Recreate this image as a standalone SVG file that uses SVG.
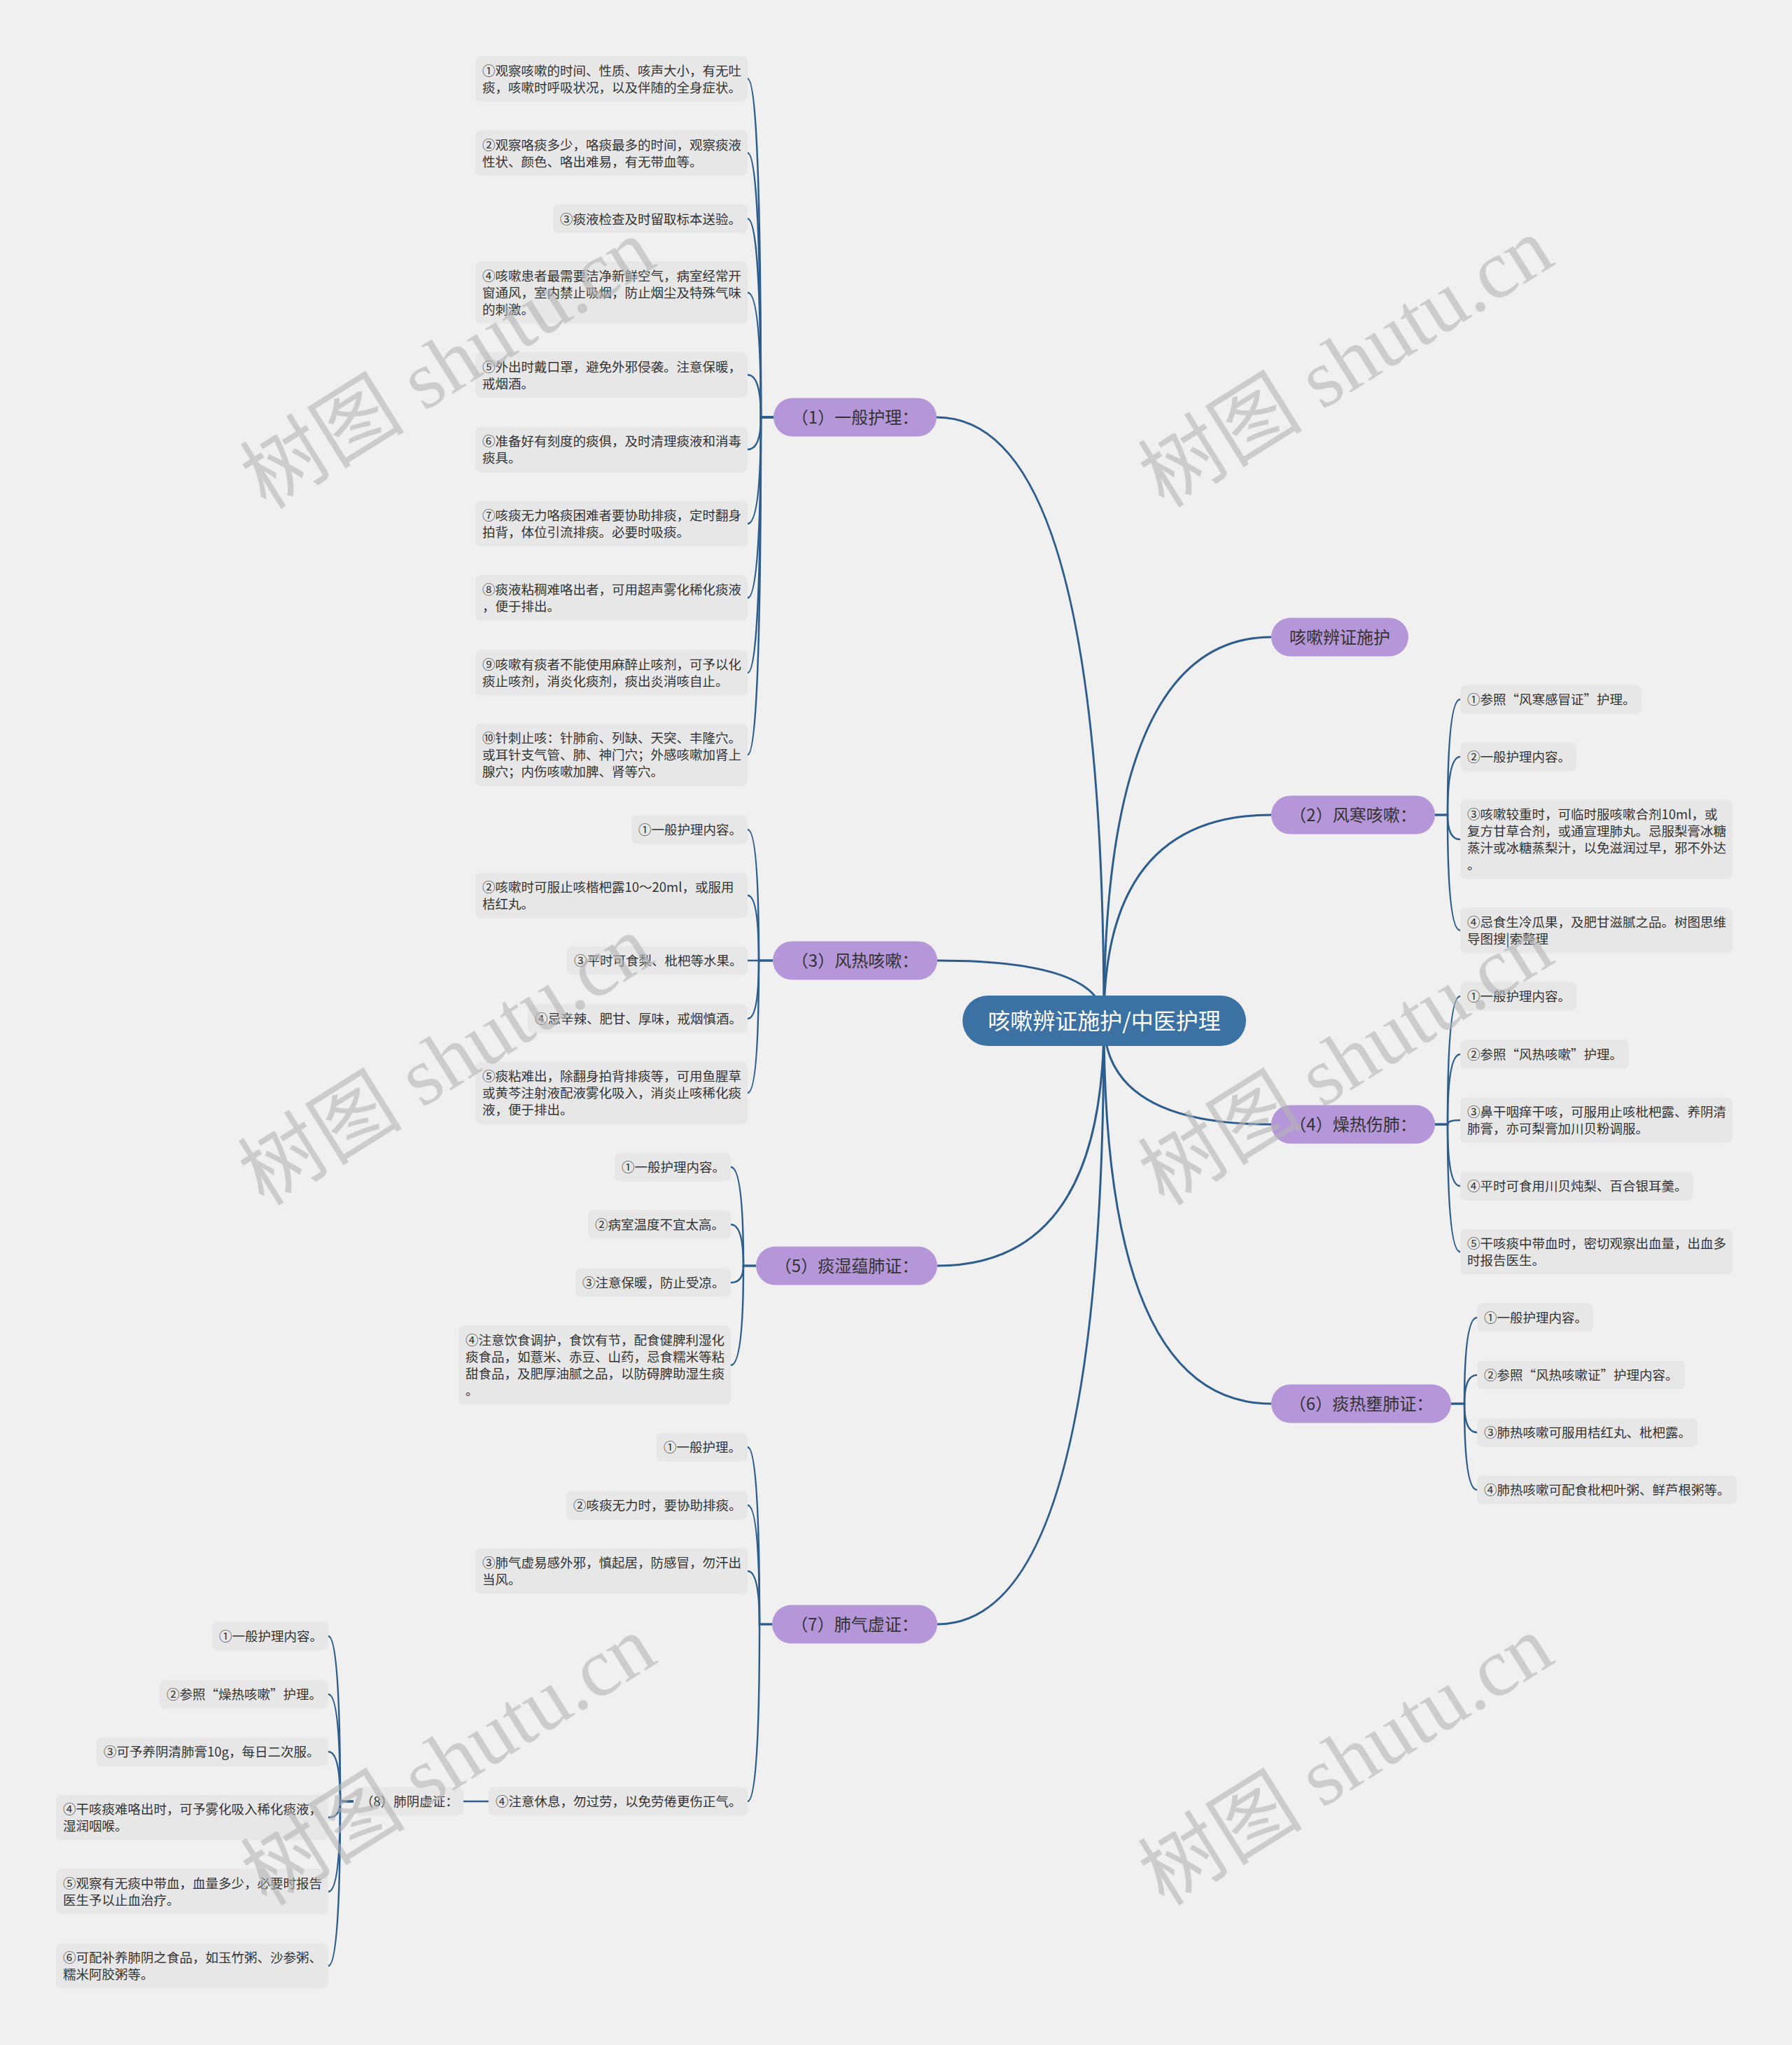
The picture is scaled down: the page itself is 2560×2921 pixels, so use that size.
<svg xmlns="http://www.w3.org/2000/svg" width="2560" height="2921" viewBox="0 0 2560 2921">
<style>
.bg{fill:#f0f0f0}
.leaf rect{fill:#e7e7e7}
.leaf text{font-family:'Noto Sans CJK SC','Noto Sans',sans-serif;font-size:18.5px;fill:#333}
.l1 rect{fill:#b596d9}
.l1 text{font-family:'Noto Sans CJK SC','Noto Sans',sans-serif;font-size:24px;fill:#333;text-anchor:middle}
.root rect{fill:#3c71a4}
.root text{font-family:'Noto Sans CJK SC','Noto Sans',sans-serif;font-size:32px;fill:#fff;text-anchor:middle}
#connectors path{fill:none;stroke:#2d5d8d;stroke-width:2.5}
#connectors .rc{stroke-width:3}
.wm{font-family:'Liberation Serif','Noto Sans CJK SC',serif;font-size:118px;fill:#b4b4b4;fill-opacity:0.6;text-anchor:middle;dominant-baseline:central}
</style>
<rect class="bg" x="0" y="0" width="2560" height="2921"/>
<g id="connectors">
<path class="rc" d="M1577 1458 Q1577 596 1338 596"/>
<path class="rc" d="M1577 1458 Q1577 910 1816 910"/>
<path class="rc" d="M1577 1458 Q1577 1164 1816 1164"/>
<path class="rc" d="M1577 1458 Q1577 1372 1339 1372"/>
<path class="rc" d="M1577 1458 Q1577 1606 1816 1606"/>
<path class="rc" d="M1577 1458 Q1577 1808 1339 1808"/>
<path class="rc" d="M1577 1458 Q1577 2005 1816 2005"/>
<path class="rc" d="M1577 1458 Q1577 2320 1339 2320"/>
<path d="M1105 596 L1087 596 Q1087 112.5 1068 112.5"/>
<path d="M1105 596 L1087 596 Q1087 218.5 1068 218.5"/>
<path d="M1105 596 L1087 596 Q1087 312.5 1068 312.5"/>
<path d="M1105 596 L1087 596 Q1087 418 1068 418"/>
<path d="M1105 596 L1087 596 Q1087 535.5 1068 535.5"/>
<path d="M1105 596 L1087 596 Q1087 642 1068 642"/>
<path d="M1105 596 L1087 596 Q1087 748 1068 748"/>
<path d="M1105 596 L1087 596 Q1087 854 1068 854"/>
<path d="M1105 596 L1087 596 Q1087 961 1068 961"/>
<path d="M1105 596 L1087 596 Q1087 1078 1068 1078"/>
<path d="M1104 1372 L1084 1372 Q1084 1185 1068 1185"/>
<path d="M1104 1372 L1084 1372 Q1084 1279 1068 1279"/>
<path d="M1104 1372 L1068 1372"/>
<path d="M1104 1372 L1084 1372 Q1084 1455 1068 1455"/>
<path d="M1104 1372 L1084 1372 Q1084 1561 1068 1561"/>
<path d="M1080 1808 L1062 1808 Q1062 1667 1044 1667"/>
<path d="M1080 1808 L1062 1808 Q1062 1749 1044 1749"/>
<path d="M1080 1808 L1062 1808 Q1062 1832 1044 1832"/>
<path d="M1080 1808 L1062 1808 Q1062 1950 1044 1950"/>
<path d="M1103 2320 L1085 2320 Q1085 2067 1068 2067"/>
<path d="M1103 2320 L1085 2320 Q1085 2150 1068 2150"/>
<path d="M1103 2320 L1085 2320 Q1085 2244 1068 2244"/>
<path d="M1103 2320 L1085 2320 Q1085 2573 1068 2573"/>
<path d="M698 2573 L662 2573"/>
<path d="M505 2573 L486 2573 Q486 2337 469 2337"/>
<path d="M505 2573 L486 2573 Q486 2420 469 2420"/>
<path d="M505 2573 L486 2573 Q486 2502 469 2502"/>
<path d="M505 2573 L486 2573 Q486 2596 469 2596"/>
<path d="M505 2573 L486 2573 Q486 2702 469 2702"/>
<path d="M505 2573 L486 2573 Q486 2808 469 2808"/>
<path d="M2050 1164 L2068 1164 Q2068 999 2086 999"/>
<path d="M2050 1164 L2068 1164 Q2068 1081 2086 1081"/>
<path d="M2050 1164 L2068 1164 Q2068 1199 2086 1199"/>
<path d="M2050 1164 L2068 1164 Q2068 1329 2086 1329"/>
<path d="M2050 1606 L2068 1606 Q2068 1423 2086 1423"/>
<path d="M2050 1606 L2068 1606 Q2068 1506 2086 1506"/>
<path d="M2050 1606 L2068 1606 Q2068 1600 2086 1600"/>
<path d="M2050 1606 L2068 1606 Q2068 1694 2086 1694"/>
<path d="M2050 1606 L2068 1606 Q2068 1788 2086 1788"/>
<path d="M2073 2005 L2092 2005 Q2092 1882 2110 1882"/>
<path d="M2073 2005 L2092 2005 Q2092 1964 2110 1964"/>
<path d="M2073 2005 L2092 2005 Q2092 2046 2110 2046"/>
<path d="M2073 2005 L2092 2005 Q2092 2128 2110 2128"/>
</g>
<g id="root" class="root"><rect x="1375" y="1422" width="405" height="72" rx="36"/><text x="1577.5" y="1470">咳嗽辨证施护/中医护理</text></g>
<g id="n1" class="l1"><rect x="1105" y="568.5" width="233" height="55" rx="27.5"/><text x="1221.5" y="604.5">（1）一般护理：</text></g>
<g id="nA" class="l1"><rect x="1816" y="882.5" width="196" height="55" rx="27.5"/><text x="1914" y="918.5">咳嗽辨证施护</text></g>
<g id="n2" class="l1"><rect x="1816" y="1136.5" width="234" height="55" rx="27.5"/><text x="1933" y="1172.5">（2）风寒咳嗽：</text></g>
<g id="n3" class="l1"><rect x="1104" y="1344.5" width="235" height="55" rx="27.5"/><text x="1221.5" y="1380.5">（3）风热咳嗽：</text></g>
<g id="n4" class="l1"><rect x="1816" y="1578.5" width="234" height="55" rx="27.5"/><text x="1933" y="1614.5">（4）燥热伤肺：</text></g>
<g id="n5" class="l1"><rect x="1080" y="1780.5" width="259" height="55" rx="27.5"/><text x="1209.5" y="1816.5">（5）痰湿蕴肺证：</text></g>
<g id="n6" class="l1"><rect x="1816" y="1977.5" width="257" height="55" rx="27.5"/><text x="1944.5" y="2013.5">（6）痰热壅肺证：</text></g>
<g id="n7" class="l1"><rect x="1103" y="2292.5" width="236" height="55" rx="27.5"/><text x="1221" y="2328.5">（7）肺气虚证：</text></g>
<g id="n1-1" class="leaf"><rect x="679" y="80" width="389" height="65" rx="8"/><text x="689"><tspan x="689" y="107.5">①观察咳嗽的时间、性质、咳声大小，有无吐</tspan><tspan x="689" y="131.5">痰，咳嗽时呼吸状况，以及伴随的全身症状。</tspan></text></g>
<g id="n1-2" class="leaf"><rect x="679" y="186" width="389" height="65" rx="8"/><text x="689"><tspan x="689" y="213.5">②观察咯痰多少，咯痰最多的时间，观察痰液</tspan><tspan x="689" y="237.5">性状、颜色、咯出难易，有无带血等。</tspan></text></g>
<g id="n1-3" class="leaf"><rect x="790" y="292" width="278" height="41" rx="8"/><text x="800" y="319.5">③痰液检查及时留取标本送验。</text></g>
<g id="n1-4" class="leaf"><rect x="679" y="373.5" width="389" height="89" rx="8"/><text x="689"><tspan x="689" y="401">④咳嗽患者最需要洁净新鲜空气，病室经常开</tspan><tspan x="689" y="425">窗通风，室内禁止吸烟，防止烟尘及特殊气味</tspan><tspan x="689" y="449">的刺激。</tspan></text></g>
<g id="n1-5" class="leaf"><rect x="679" y="503" width="389" height="65" rx="8"/><text x="689"><tspan x="689" y="530.5">⑤外出时戴口罩，避免外邪侵袭。注意保暖，</tspan><tspan x="689" y="554.5">戒烟酒。</tspan></text></g>
<g id="n1-6" class="leaf"><rect x="679" y="609.5" width="389" height="65" rx="8"/><text x="689"><tspan x="689" y="637">⑥准备好有刻度的痰俱，及时清理痰液和消毒</tspan><tspan x="689" y="661">痰具。</tspan></text></g>
<g id="n1-7" class="leaf"><rect x="679" y="715.5" width="389" height="65" rx="8"/><text x="689"><tspan x="689" y="743">⑦咳痰无力咯痰困难者要协助排痰，定时翻身</tspan><tspan x="689" y="767">拍背，体位引流排痰。必要时吸痰。</tspan></text></g>
<g id="n1-8" class="leaf"><rect x="679" y="821.5" width="389" height="65" rx="8"/><text x="689"><tspan x="689" y="849">⑧痰液粘稠难咯出者，可用超声雾化稀化痰液</tspan><tspan x="689" y="873">，便于排出。</tspan></text></g>
<g id="n1-9" class="leaf"><rect x="679" y="928.5" width="389" height="65" rx="8"/><text x="689"><tspan x="689" y="956">⑨咳嗽有痰者不能使用麻醉止咳剂，可予以化</tspan><tspan x="689" y="980">痰止咳剂，消炎化痰剂，痰出炎消咳自止。</tspan></text></g>
<g id="n1-10" class="leaf"><rect x="679" y="1033.5" width="389" height="89" rx="8"/><text x="689"><tspan x="689" y="1061">⑩针刺止咳：针肺俞、列缺、天突、丰隆穴。</tspan><tspan x="689" y="1085">或耳针支气管、肺、神门穴；外感咳嗽加肾上</tspan><tspan x="689" y="1109">腺穴；内伤咳嗽加脾、肾等穴。</tspan></text></g>
<g id="n3-1" class="leaf"><rect x="902" y="1164.5" width="166" height="41" rx="8"/><text x="912" y="1192">①一般护理内容。</text></g>
<g id="n3-2" class="leaf"><rect x="679" y="1246.5" width="389" height="65" rx="8"/><text x="689"><tspan x="689" y="1274">②咳嗽时可服止咳楷杷露10～20ml，或服用</tspan><tspan x="689" y="1298">桔红丸。</tspan></text></g>
<g id="n3-3" class="leaf"><rect x="810" y="1351.5" width="258" height="41" rx="8"/><text x="820" y="1379">③平时可食梨、枇杷等水果。</text></g>
<g id="n3-4" class="leaf"><rect x="754" y="1434.5" width="314" height="41" rx="8"/><text x="764" y="1462">④忌辛辣、肥甘、厚味，戒烟慎酒。</text></g>
<g id="n3-5" class="leaf"><rect x="679" y="1516.5" width="389" height="89" rx="8"/><text x="689"><tspan x="689" y="1544">⑤痰粘难出，除翻身拍背排痰等，可用鱼腥草</tspan><tspan x="689" y="1568">或黄芩注射液配液雾化吸入，消炎止咳稀化痰</tspan><tspan x="689" y="1592">液，便于排出。</tspan></text></g>
<g id="n5-1" class="leaf"><rect x="878" y="1646.5" width="166" height="41" rx="8"/><text x="888" y="1674">①一般护理内容。</text></g>
<g id="n5-2" class="leaf"><rect x="840" y="1728.5" width="204" height="41" rx="8"/><text x="850" y="1756">②病室温度不宜太高。</text></g>
<g id="n5-3" class="leaf"><rect x="822" y="1811.5" width="222" height="41" rx="8"/><text x="832" y="1839">③注意保暖，防止受凉。</text></g>
<g id="n5-4" class="leaf"><rect x="655" y="1893.5" width="389" height="113" rx="8"/><text x="665"><tspan x="665" y="1921">④注意饮食调护，食饮有节，配食健脾利湿化</tspan><tspan x="665" y="1945">痰食品，如薏米、赤豆、山药，忌食糯米等粘</tspan><tspan x="665" y="1969">甜食品，及肥厚油腻之品，以防碍脾助湿生痰</tspan><tspan x="665" y="1993">。</tspan></text></g>
<g id="n7-1" class="leaf"><rect x="938" y="2046.5" width="130" height="41" rx="8"/><text x="948" y="2074">①一般护理。</text></g>
<g id="n7-2" class="leaf"><rect x="809" y="2129.5" width="259" height="41" rx="8"/><text x="819" y="2157">②咳痰无力时，要协助排痰。</text></g>
<g id="n7-3" class="leaf"><rect x="679" y="2211.5" width="389" height="65" rx="8"/><text x="689"><tspan x="689" y="2239">③肺气虚易感外邪，慎起居，防感冒，勿汗出</tspan><tspan x="689" y="2263">当风。</tspan></text></g>
<g id="n7-4" class="leaf"><rect x="698" y="2552.5" width="370" height="41" rx="8"/><text x="708" y="2580">④注意休息，勿过劳，以免劳倦更伤正气。</text></g>
<g id="n8" class="leaf"><rect x="505" y="2552.5" width="157" height="41" rx="8"/><text x="515" y="2580">（8）肺阴虚证：</text></g>
<g id="n8-1" class="leaf"><rect x="303" y="2316.5" width="166" height="41" rx="8"/><text x="313" y="2344">①一般护理内容。</text></g>
<g id="n8-2" class="leaf"><rect x="228" y="2399.5" width="241" height="41" rx="8"/><text x="238" y="2427">②参照“燥热咳嗽”护理。</text></g>
<g id="n8-3" class="leaf"><rect x="138" y="2481.5" width="331" height="41" rx="8"/><text x="148" y="2509">③可予养阴清肺膏10g，每日二次服。</text></g>
<g id="n8-4" class="leaf"><rect x="80" y="2563.5" width="389" height="65" rx="8"/><text x="90"><tspan x="90" y="2591">④干咳痰难咯出时，可予雾化吸入稀化痰液，</tspan><tspan x="90" y="2615">湿润咽喉。</tspan></text></g>
<g id="n8-5" class="leaf"><rect x="80" y="2669.5" width="389" height="65" rx="8"/><text x="90"><tspan x="90" y="2697">⑤观察有无痰中带血，血量多少，必要时报告</tspan><tspan x="90" y="2721">医生予以止血治疗。</tspan></text></g>
<g id="n8-6" class="leaf"><rect x="80" y="2775.5" width="389" height="65" rx="8"/><text x="90"><tspan x="90" y="2803">⑥可配补养肺阴之食品，如玉竹粥、沙参粥、</tspan><tspan x="90" y="2827">糯米阿胶粥等。</tspan></text></g>
<g id="n2-1" class="leaf"><rect x="2086" y="978.5" width="259" height="41" rx="8"/><text x="2096" y="1006">①参照“风寒感冒证”护理。</text></g>
<g id="n2-2" class="leaf"><rect x="2086" y="1060.5" width="166" height="41" rx="8"/><text x="2096" y="1088">②一般护理内容。</text></g>
<g id="n2-3" class="leaf"><rect x="2086" y="1142.5" width="389" height="113" rx="8"/><text x="2096"><tspan x="2096" y="1170">③咳嗽较重时，可临时服咳嗽合剂10ml，或</tspan><tspan x="2096" y="1194">复方甘草合剂，或通宣理肺丸。忌服梨膏冰糖</tspan><tspan x="2096" y="1218">蒸汁或冰糖蒸梨汁，以免滋润过早，邪不外达</tspan><tspan x="2096" y="1242">。</tspan></text></g>
<g id="n2-4" class="leaf"><rect x="2086" y="1296.5" width="389" height="65" rx="8"/><text x="2096"><tspan x="2096" y="1324">④忌食生冷瓜果，及肥甘滋腻之品。树图思维</tspan><tspan x="2096" y="1348">导图搜|索整理</tspan></text></g>
<g id="n4-1" class="leaf"><rect x="2086" y="1402.5" width="166" height="41" rx="8"/><text x="2096" y="1430">①一般护理内容。</text></g>
<g id="n4-2" class="leaf"><rect x="2086" y="1485.5" width="241" height="41" rx="8"/><text x="2096" y="1513">②参照“风热咳嗽”护理。</text></g>
<g id="n4-3" class="leaf"><rect x="2086" y="1567.5" width="389" height="65" rx="8"/><text x="2096"><tspan x="2096" y="1595">③鼻干咽痒干咳，可服用止咳枇杷露、养阴清</tspan><tspan x="2096" y="1619">肺膏，亦可梨膏加川贝粉调服。</tspan></text></g>
<g id="n4-4" class="leaf"><rect x="2086" y="1673.5" width="333" height="41" rx="8"/><text x="2096" y="1701">④平时可食用川贝炖梨、百合银耳羹。</text></g>
<g id="n4-5" class="leaf"><rect x="2086" y="1755.5" width="389" height="65" rx="8"/><text x="2096"><tspan x="2096" y="1783">⑤干咳痰中带血时，密切观察出血量，出血多</tspan><tspan x="2096" y="1807">时报告医生。</tspan></text></g>
<g id="n6-1" class="leaf"><rect x="2110" y="1861.5" width="166" height="41" rx="8"/><text x="2120" y="1889">①一般护理内容。</text></g>
<g id="n6-2" class="leaf"><rect x="2110" y="1943.5" width="297" height="41" rx="8"/><text x="2120" y="1971">②参照“风热咳嗽证”护理内容。</text></g>
<g id="n6-3" class="leaf"><rect x="2110" y="2025.5" width="315" height="41" rx="8"/><text x="2120" y="2053">③肺热咳嗽可服用桔红丸、枇杷露。</text></g>
<g id="n6-4" class="leaf"><rect x="2110" y="2107.5" width="371" height="41" rx="8"/><text x="2120" y="2135">④肺热咳嗽可配食枇杷叶粥、鲜芦根粥等。</text></g>
<g id="watermarks">
<text class="wm" transform="translate(640 520) rotate(-32)">树图 shutu.cn</text>
<text class="wm" transform="translate(1923 518) rotate(-32)">树图 shutu.cn</text>
<text class="wm" transform="translate(637 1515) rotate(-32)">树图 shutu.cn</text>
<text class="wm" transform="translate(1923 1515) rotate(-32)">树图 shutu.cn</text>
<text class="wm" transform="translate(641 2515) rotate(-32)">树图 shutu.cn</text>
<text class="wm" transform="translate(1923 2515) rotate(-32)">树图 shutu.cn</text>
</g>
</svg>
